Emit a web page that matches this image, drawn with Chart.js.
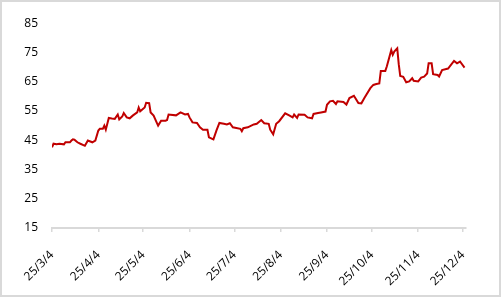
<!DOCTYPE html>
<html>
<head>
<meta charset="utf-8">
<script src="https://cdn.jsdelivr.net/npm/chart.js@4/dist/chart.umd.min.js"></script>
<style>
  html, body { margin: 0; padding: 0; background: #fff; }
  #wrap { width: 501px; height: 297px; box-sizing: border-box; border: 2px solid #d9d9d9; }
  canvas { display: block; }
</style>
</head>
<body>
<div id="wrap"><canvas id="chart" width="497" height="293"></canvas></div>
<script>
// day offsets from 2025-03-04
const days = [0, 1, 3, 5, 8, 9, 12, 13, 14, 15, 17, 19, 22, 24, 27, 29, 31, 32, 34, 35,
  36, 38, 40, 42, 44, 45, 47, 48, 50, 52, 54, 57, 58, 59, 62, 63, 65, 66, 68, 70,
  71, 73, 76, 77, 78, 83, 86, 89, 91, 92, 94, 97, 99, 101, 104, 105, 108, 110, 112, 115,
  117, 119, 121, 126, 127, 128, 131, 135, 137, 140, 142, 145, 146, 148, 150, 152, 156, 159, 161, 162,
  164, 165, 169, 171, 174, 175, 178, 180, 183, 184, 186, 188, 190, 191, 195, 197, 199, 202, 205, 207,
  209, 213, 215, 217, 219, 220, 223, 224, 227, 228, 229, 231, 232, 233, 235, 237, 239, 241, 242, 245,
  247, 249, 251, 252, 254, 255, 258, 259, 261, 265, 269, 271, 273, 276];
const values = [42.6, 43.8, 43.6, 43.8, 43.6, 44.3, 44.3, 44.9, 45.3, 45.2, 44.3, 43.8, 43.1, 44.9, 44.3, 44.9, 48.3, 48.9, 48.9, 50.0,
  48.6, 52.6, 52.4, 52.3, 53.8, 52.1, 53.1, 54.3, 52.8, 52.5, 53.4, 54.5, 56.2, 54.9, 56.2, 57.8, 57.7, 54.5, 53.4, 51.1,
  50.0, 51.7, 51.7, 51.9, 53.8, 53.5, 54.5, 53.8, 54.0, 52.8, 51.1, 50.9, 49.4, 48.6, 48.6, 46.0, 45.3, 48.3, 50.9, 50.6,
  50.4, 50.8, 49.4, 48.9, 48.1, 49.1, 49.4, 50.4, 50.6, 51.9, 50.8, 50.6, 48.6, 47.0, 50.6, 51.5, 54.2, 53.4, 52.8, 53.8,
  52.6, 53.8, 53.7, 52.8, 52.5, 54.0, 54.3, 54.5, 54.8, 57.1, 58.3, 58.5, 57.4, 58.3, 58.1, 57.2, 59.4, 60.2, 57.7, 57.6,
  59.4, 62.8, 63.9, 64.2, 64.4, 68.7, 68.7, 70.2, 75.8, 74.2, 75.3, 76.4, 71.0, 67.0, 66.7, 64.8, 65.1, 66.2, 65.3, 65.1,
  66.4, 66.7, 67.8, 71.3, 71.3, 67.6, 67.3, 66.8, 69.0, 69.5, 72.1, 71.3, 71.9, 69.8];

const tickDays = [0, 31, 61, 92, 122, 153, 184, 214, 245, 275];
const tickLabels = ["25/3/4", "25/4/4", "25/5/4", "25/6/4", "25/7/4", "25/8/4", "25/9/4", "25/10/4", "25/11/4", "25/12/4"];

const points = days.map((d, i) => ({ x: d, y: values[i] }));
const font = { family: "'Open Sans', 'Noto Sans', sans-serif", size: 12 };

new Chart(document.getElementById("chart"), {
  type: "line",
  data: {
    datasets: [
      {
        data: points,
        borderColor: "#c00000",
        borderWidth: 2,
        pointRadius: 0,
        tension: 0,
        fill: false,
      },
    ],
  },
  options: {
    responsive: false,
    animation: false,
    layout: { padding: { left: 0, right: 33, top: 21, bottom: 0 } },
    plugins: { legend: { display: false }, tooltip: { enabled: false } },
    scales: {
      x: {
        type: "linear",
        min: 0,
        max: 277,
        afterBuildTicks: (scale) => {
          scale.ticks = tickDays.map((v) => ({ value: v }));
        },
        afterFit: (scale) => {
          scale.height = 67;
        },
        ticks: {
          autoSkip: false,
          maxRotation: 45,
          minRotation: 45,
          padding: 16,
          color: "#000",
          font: font,
          callback: (value, index) => tickLabels[index],
        },
        grid: {
          display: true,
          drawOnChartArea: false,
          drawTicks: true,
          tickLength: 4,
          color: "#d9d9d9",
          lineWidth: 1.5,
        },
        border: { display: true, color: "#d9d9d9", width: 2 },
      },
      y: {
        min: 15,
        max: 85,
        afterFit: (scale) => {
          scale.width = 50;
        },
        ticks: {
          stepSize: 10,
          padding: 14,
          color: "#000",
          font: font,
        },
        grid: { display: false, drawTicks: false },
        border: { display: false },
      },
    },
  },
});
</script>
</body>
</html>
